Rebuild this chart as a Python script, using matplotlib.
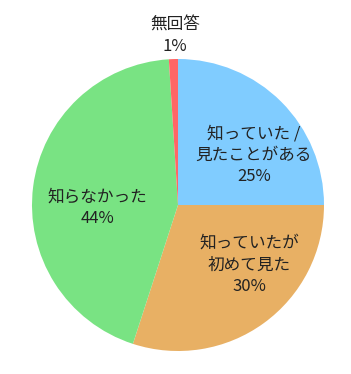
import matplotlib
matplotlib.use("Agg")
from matplotlib import pyplot as plt

plt.rcParams['font.family'] = ['Noto Sans CJK JP', 'DejaVu Sans']

labels = ['知っていた /\n見たことがある', '知っていたが\n初めて見た', '知らなかった', '無回答']
values = [25, 30, 44, 1]
colors = ['#80ccff', '#e8b064', '#79e383', '#ff6666']

# label positions in radius units (x, y)
label_pos = [(0.52, 0.34), (0.49, -0.41), (-0.55, -0.02), (-0.02, 1.16)]

fig = plt.figure(figsize=(3.51, 3.74), dpi=100)
cx, cy, r = 178, 374 - 205, 146
ax = fig.add_axes([(cx - r) / 351, (cy - r) / 374, 2 * r / 351, 2 * r / 374])

ax.pie(values, colors=colors, startangle=90, counterclock=False, radius=1,
       wedgeprops={'linewidth': 0})

for lab, v, (x, y) in zip(labels, values, label_pos):
    ax.text(x, y, f"{lab}\n{v}%", ha='center', va='center', fontsize=12,
            linespacing=1.35, color='#222222')

ax.set_xlim(-1, 1)
ax.set_ylim(-1, 1)
ax.set_aspect('auto')
ax.axis('off')

fig.savefig('out.png', dpi=100)
